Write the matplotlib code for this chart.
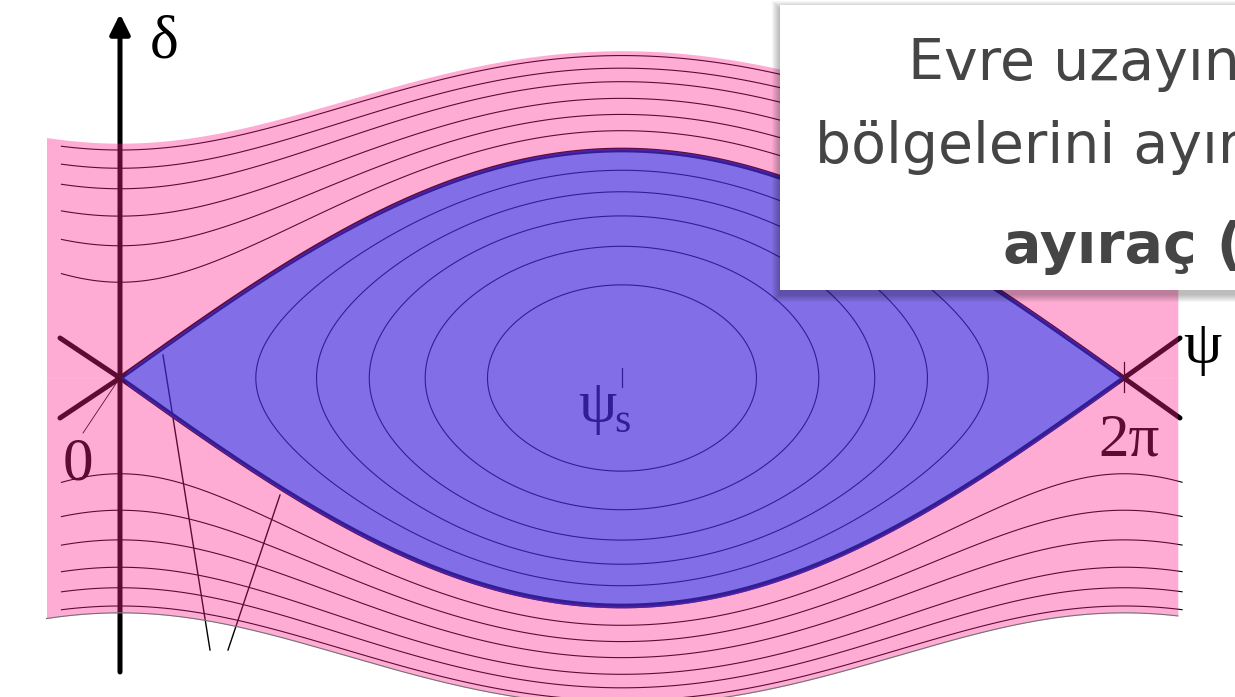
import numpy as np
import matplotlib.pyplot as plt
from matplotlib.patches import Rectangle

# phase space data: psi in rad, delta scaled so the separatrix peak is 1
inner_turn = [0.85, 1.23, 1.56, 1.91, 2.30]          # left turning points of bound orbits
outer_delta0 = [0.42, 0.58, 0.71, 0.83, 0.92, 1.0]   # delta at psi=0 for unbound orbits
edge_delta0 = 1.03                                   # outer edge of the pink area
pink_range = (-0.46, 6.62)
line_range = (-0.37, 6.65)
axis_labels = ['δ', 'ψ']
tick_labels = ['0', 'ψ', 's', '2π']
box_lines = ['Evre uzayın', 'bölgelerini ayır', 'ayıraç (s']

W, H = 1235, 697
X0, X2PI, Y0, YS = 120, 1124, 378, 228


def px(x, y):
    # pixel position -> (psi, delta)
    return (x - X0) * 2 * np.pi / (X2PI - X0), (Y0 - y) / YS


pink = (255 / 255, 32 / 255, 140 / 255)
blue = (73 / 255, 44 / 255, 219 / 255)
serif = 'Liberation Serif'

fig = plt.figure(figsize=(W / 100, H / 100), dpi=100)
ax = fig.add_axes([0, 0, 1, 1])
ax.set_xlim(px(0, 0)[0], px(W, 0)[0])
ax.set_ylim(px(0, H)[1], px(0, 0)[1])
ax.axis('off')

# orbits as contours of F = delta^2 - sin^2(psi/2)
psi = np.linspace(line_range[0], line_range[1], 900)
dl = np.linspace(-1.6, 1.8, 800)
P, D = np.meshgrid(psi, dl)
F = D ** 2 - np.sin(P / 2) ** 2
inner_levels = sorted(-np.sin(np.array(inner_turn) / 2) ** 2)
outer_levels = [d ** 2 for d in outer_delta0]
ax.contour(P, D, F, levels=inner_levels, colors='k', linewidths=0.8,
           linestyles='solid', zorder=2)
ax.contour(P, D, F, levels=outer_levels, colors='k', linewidths=0.8,
           linestyles='solid', zorder=2)

# separatrix
ps = np.linspace(0, 2 * np.pi, 400)
sep = np.sin(ps / 2)
ax.plot(ps, sep, color='k', lw=3.4, zorder=2, solid_capstyle='round')
ax.plot(ps, -sep, color='k', lw=3.4, zorder=2, solid_capstyle='round')

# crossing arms at the unstable points
for xc, xe in [(X0, 60), (X2PI, 1180)]:
    xs, ys = zip(px(xe, 338), px(xc, 378), px(xe, 418))
    ax.plot(xs, ys, color='k', lw=3.6, zorder=2, solid_capstyle='round')

# axes with arrows
ax.annotate('', xy=px(X0, 14), xytext=px(X0, 672),
            arrowprops=dict(arrowstyle='-|>', lw=3.6, color='k', mutation_scale=30,
                            shrinkA=0, shrinkB=0), zorder=2)
ax.annotate('', xy=px(1240, Y0), xytext=px(15, Y0),
            arrowprops=dict(arrowstyle='-|>', lw=3.6, color='k', mutation_scale=30,
                            shrinkA=0, shrinkB=0), zorder=2)

# small ticks
for xt, y1, y2 in [(622, 368, 387), (X2PI, 362, 392)]:
    xs, ys = zip(px(xt, y1), px(xt, y2))
    ax.plot(xs, ys, color='k', lw=0.9, zorder=2)

# pointer lines
for (x1, y1), (x2, y2), w in [((163, 355), (210, 650), 1.0),
                              ((280, 495), (228, 650), 1.0),
                              ((117, 382), (83, 433), 0.6)]:
    xs, ys = zip(px(x1, y1), px(x2, y2))
    ax.plot(xs, ys, color='k', lw=w, zorder=2)

# labels (drawn under the colour overlays)
ax.text(*px(150, 58), axis_labels[0], family=serif, fontsize=44, va='baseline', zorder=2)
ax.text(*px(1183, 363), axis_labels[1], family=serif, fontsize=44, va='baseline', zorder=2)
ax.text(*px(63, 480), tick_labels[0], family=serif, fontsize=44, va='baseline', zorder=2)
ax.text(*px(578, 422), tick_labels[1], family=serif, fontsize=44, va='baseline', zorder=2)
ax.text(*px(614, 432), tick_labels[2], family=serif, fontsize=30, va='baseline', zorder=2)
ax.text(*px(1098, 455), tick_labels[3], family=serif, fontsize=44, va='baseline', zorder=2)

# coloured regions
pp = np.linspace(pink_range[0], pink_range[1], 800)
edge = np.sqrt(edge_delta0 ** 2 + np.sin(pp / 2) ** 2)
lens = np.where((pp >= 0) & (pp <= 2 * np.pi), np.abs(np.sin(pp / 2)), 0)
ax.fill_between(pp, lens, edge, color=pink, alpha=0.37, lw=0, zorder=3)
ax.fill_between(pp, -edge, -lens, color=pink, alpha=0.37, lw=0, zorder=3)
ax.plot(pp, -edge, color='0.45', lw=0.8, zorder=3)
# blue wash spills a hair over the separatrix
grow = np.where(sep > 0.02, 0.008, 0.0)
ax.fill_between(ps, -sep - grow, sep + grow, color=blue, alpha=0.686, lw=0, zorder=3)

# text box with soft shadow
bx, by, bw, bh = 780, 5, 470, 285
for i in range(1, 9):
    fig.add_artist(Rectangle(((bx - i) / W, 1 - (by + bh + 4 + i) / H), (bw + 2 * i) / W,
                             (bh + 2 * i) / H, transform=fig.transFigure,
                             facecolor='k', alpha=0.035, lw=0, zorder=5))
fig.add_artist(Rectangle((bx / W, 1 - (by + bh) / H), bw / W, bh / H,
                         transform=fig.transFigure, facecolor='white', lw=0, zorder=6))
fig.text(908 / W, 1 - 80 / H, box_lines[0], fontsize=41, color='#454545',
         family='DejaVu Sans', va='baseline', zorder=7)
fig.text(815 / W, 1 - 163 / H, box_lines[1], fontsize=41, color='#454545',
         family='DejaVu Sans', va='baseline', zorder=7)
fig.text(1003 / W, 1 - 263 / H, box_lines[2], fontsize=41, color='#454545',
         family='DejaVu Sans', weight='bold', va='baseline', zorder=7)

fig.savefig('out.png', dpi=100)
